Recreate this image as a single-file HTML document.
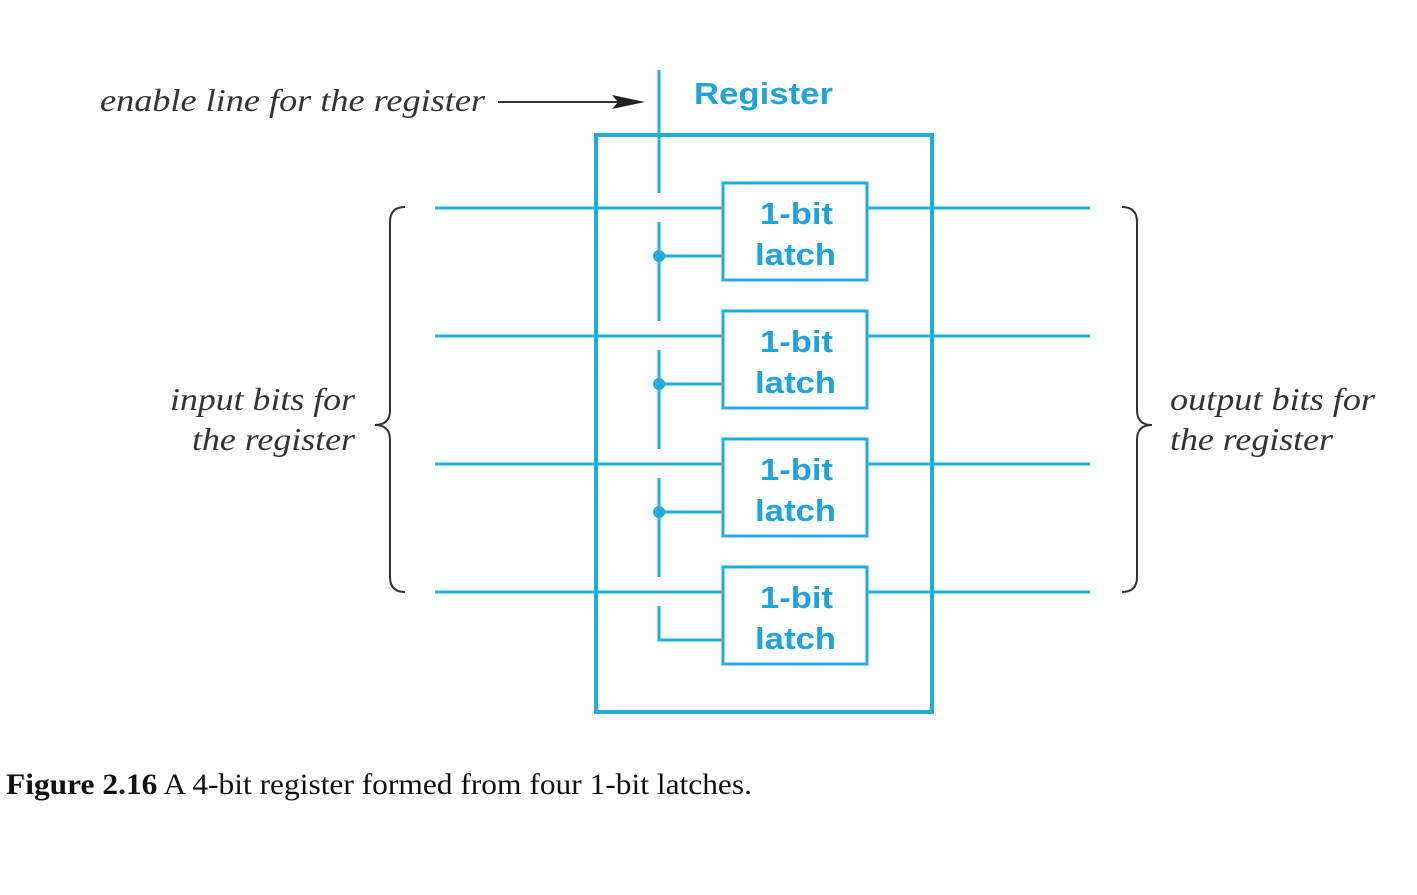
<!DOCTYPE html>
<html><head><meta charset="utf-8"><style>
body{margin:0;background:#fff;width:1417px;height:890px;overflow:hidden}
</style></head><body>
<svg width="1417" height="890" xmlns="http://www.w3.org/2000/svg">
<g font-family="Liberation Serif, serif" font-style="italic" font-size="32" fill="#333">
<text x="100" y="111" textLength="385" lengthAdjust="spacingAndGlyphs">enable line for the register</text>
<text x="170" y="410" textLength="185" lengthAdjust="spacingAndGlyphs">input bits for</text>
<text x="192" y="450" textLength="163" lengthAdjust="spacingAndGlyphs">the register</text>
<text x="1170" y="410" textLength="205" lengthAdjust="spacingAndGlyphs">output bits for</text>
<text x="1170" y="450" textLength="163" lengthAdjust="spacingAndGlyphs">the register</text>
</g>
<line x1="498" y1="102" x2="625" y2="102" stroke="#333" stroke-width="2"/>
<polygon points="612,95 645,102 612,109 618,102" fill="#222"/>
<g stroke="#1fade0" fill="none">
<rect x="596" y="135" width="336" height="577" stroke-width="4"/>
<g stroke-width="3">
<line x1="435" y1="208" x2="1090" y2="208"/>
<line x1="435" y1="336" x2="1090" y2="336"/>
<line x1="435" y1="464" x2="1090" y2="464"/>
<line x1="435" y1="592" x2="1090" y2="592"/>
<rect x="723" y="183" width="144" height="97" fill="#fff"/>
<rect x="723" y="311" width="144" height="97" fill="#fff"/>
<rect x="723" y="439" width="144" height="97" fill="#fff"/>
<rect x="723" y="567" width="144" height="97" fill="#fff"/>
<line x1="659" y1="70" x2="659" y2="193"/>
<line x1="659" y1="222" x2="659" y2="321"/>
<line x1="659" y1="350" x2="659" y2="449"/>
<line x1="659" y1="478" x2="659" y2="577"/>
<polyline points="659,606 659,640 723,640"/>
<line x1="659" y1="256" x2="723" y2="256"/>
<line x1="659" y1="384" x2="723" y2="384"/>
<line x1="659" y1="512" x2="723" y2="512"/>
</g>
</g>
<g fill="#1fade0"><circle cx="659" cy="256" r="6"/><circle cx="659" cy="384" r="6"/><circle cx="659" cy="512" r="6"/></g>
<g font-family="Liberation Sans, sans-serif" font-weight="bold" font-size="31" fill="#1fa3d8">
<text x="694" y="104" textLength="139" lengthAdjust="spacingAndGlyphs">Register</text>
<text x="760" y="224" textLength="73" lengthAdjust="spacingAndGlyphs">1-bit</text><text x="755" y="265" textLength="81" lengthAdjust="spacingAndGlyphs">latch</text>
<text x="760" y="352" textLength="73" lengthAdjust="spacingAndGlyphs">1-bit</text><text x="755" y="393" textLength="81" lengthAdjust="spacingAndGlyphs">latch</text>
<text x="760" y="480" textLength="73" lengthAdjust="spacingAndGlyphs">1-bit</text><text x="755" y="521" textLength="81" lengthAdjust="spacingAndGlyphs">latch</text>
<text x="760" y="608" textLength="73" lengthAdjust="spacingAndGlyphs">1-bit</text><text x="755" y="649" textLength="81" lengthAdjust="spacingAndGlyphs">latch</text>
</g>
<g stroke="#333" stroke-width="2" fill="none">
<path d="M405,207 Q390,207 390,222 L390,410 Q390,425 375,425 Q390,425 390,440 L390,577 Q390,592 405,592"/>
<path d="M1122,207 Q1137,207 1137,222 L1137,410 Q1137,425 1152,425 Q1137,425 1137,440 L1137,577 Q1137,592 1122,592"/>
</g>
<text x="6" y="794" font-family="Liberation Serif, serif" font-size="30" fill="#111" textLength="746" lengthAdjust="spacingAndGlyphs"><tspan font-weight="bold">Figure 2.16</tspan> A 4-bit register formed from four 1-bit latches.</text>
</svg>
</body></html>
